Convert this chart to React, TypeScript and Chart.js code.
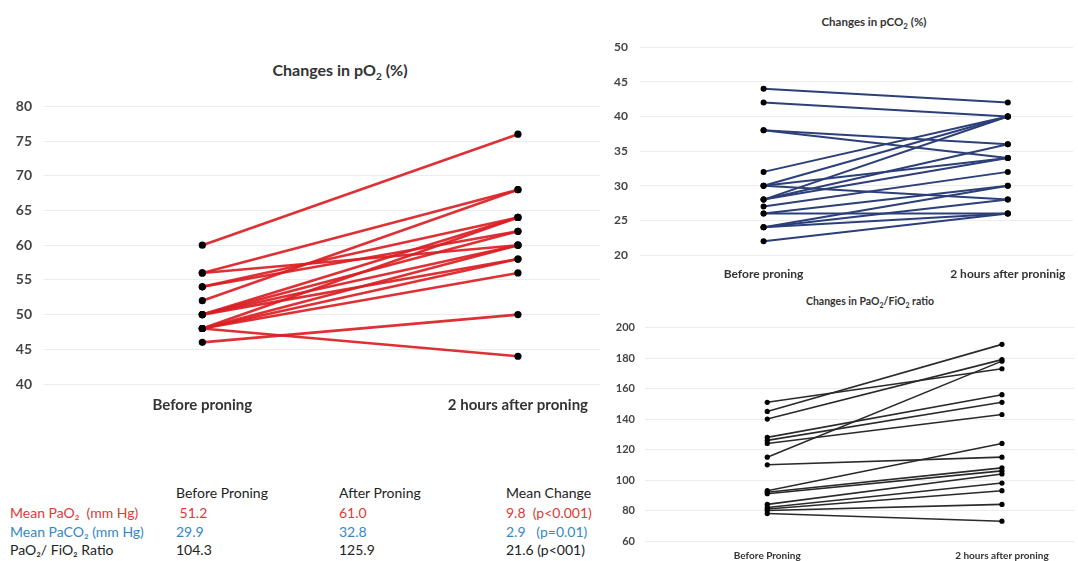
import React, { useEffect, useRef } from "react";
import Chart from "chart.js/auto";

// ---------- DATA ----------
const po2Labels = ["Before proning", "2 hours after proning"];
const po2Before = [60, 56, 56, 54, 54, 52, 50, 50, 50, 50, 48, 48, 48, 48, 48, 46];
const po2After = [76, 68, 60, 64, 62, 68, 64, 62, 60, 58, 64, 60, 58, 56, 44, 50];
const po2Ticks = [40, 45, 50, 55, 60, 65, 70, 75, 80];

const pco2Labels = ["Before proning", "2 hours after proninig"];
const pco2Before = [44, 42, 38, 38, 32, 30, 30, 30, 28, 28, 28, 27, 26, 26, 24, 24, 24, 22];
const pco2After = [42, 40, 36, 34, 40, 40, 34, 28, 40, 36, 34, 32, 30, 26, 30, 28, 26, 26];
const pco2Ticks = [20, 25, 30, 35, 40, 45, 50];

const ratioLabels = ["Before Proning", "2 hours after proning"];
const ratioBefore = [151, 145, 140, 128, 126, 124, 115, 110, 93, 92, 91, 84, 82, 81, 80, 78];
const ratioAfter = [173, 189, 179, 156, 151, 143, 178, 115, 124, 108, 106, 104, 98, 93, 84, 73];
const ratioTicks = [60, 80, 100, 120, 140, 160, 180, 200];

const tableHeaders = ["Before Proning", "After Proning", "Mean Change"];
const tableRowLabels = ["Mean PaO₂  (mm Hg)", "Mean PaCO₂ (mm Hg)", "PaO₂/ FiO₂ Ratio"];
const tableBefore = [" 51.2", "29.9", "104.3"];
const tableAfter = ["61.0", "32.8", "125.9"];
const tableChange = ["9.8  (p<0.001)", "2.9   (p=0.01)", "21.6 (p<001)"];
const tableColors = ["#dc3a36", "#3388c4", "#222222"];

type PanelProps = {
  before: number[];
  after: number[];
  labels: string[];
  ticks: number[];
  lineColor: string;
  lineWidth: number;
  pointRadius: number;
  left: number;
  top: number;
  width: number;
  height: number;
  yAxisWidth: number;
  xAxisHeight: number;
  padTop: number;
  padRight: number;
  xMin: number;
  xMax: number;
  tickFont: number;
  tickPad: number;
  xFont: number;
  xPad: number;
};

function Panel(p: PanelProps) {
  const ref = useRef<HTMLCanvasElement | null>(null);
  useEffect(() => {
    if (!ref.current) return;
    const datasets = p.before.map((b, i) => ({
      data: [
        { x: 0, y: b },
        { x: 1, y: p.after[i] },
      ],
      borderColor: p.lineColor,
      borderWidth: p.lineWidth,
      pointRadius: p.pointRadius,
      pointBackgroundColor: "#000000",
      pointBorderColor: "#000000",
      pointBorderWidth: 0,
      showLine: true,
      fill: false,
      tension: 0,
    }));
    const yMin = p.ticks[0];
    const yMax = p.ticks[p.ticks.length - 1];
    const chart = new Chart(ref.current, {
      type: "scatter",
      data: { datasets },
      options: {
        animation: false,
        responsive: false,
        maintainAspectRatio: false,
        layout: { padding: { top: p.padTop, right: p.padRight, left: 0, bottom: 0 } },
        plugins: { legend: { display: false }, tooltip: { enabled: false }, title: { display: false } },
        scales: {
          x: {
            type: "linear",
            min: p.xMin,
            max: p.xMax,
            grid: { display: false, drawTicks: false },
            border: { display: false },
            afterBuildTicks: (s: any) => {
              s.ticks = [{ value: 0 }, { value: 1 }];
            },
            afterFit: (s: any) => {
              s.height = p.xAxisHeight;
            },
            ticks: {
              autoSkip: false,
              maxRotation: 0,
              padding: p.xPad,
              color: "#333333",
              font: { family: "Lato", size: p.xFont, weight: "bold" },
              callback: (v: any) => p.labels[Number(v)] ?? "",
            },
          },
          y: {
            type: "linear",
            min: yMin,
            max: yMax,
            grid: { color: "#ececec", lineWidth: 1, drawTicks: false },
            border: { display: false },
            afterBuildTicks: (s: any) => {
              s.ticks = p.ticks.map((v) => ({ value: v }));
            },
            afterFit: (s: any) => {
              s.width = p.yAxisWidth;
            },
            ticks: {
              padding: p.tickPad,
              color: "#444444",
              font: { family: "Lato", size: p.tickFont, weight: "bold" },
            },
          },
        },
      },
    } as any);
    return () => chart.destroy();
  }, []);
  return (
    <canvas
      ref={ref}
      width={p.width}
      height={p.height}
      style={{ position: "absolute", left: p.left, top: p.top, width: p.width, height: p.height }}
    />
  );
}

const txt = (extra: React.CSSProperties): React.CSSProperties => ({
  position: "absolute",
  whiteSpace: "pre",
  fontFamily: "Lato",
  lineHeight: 1,
  ...extra,
});

export default function App() {
  const rowY = [513, 532, 550];
  return (
    <div style={{ position: "absolute", left: 0, top: 0, width: 1078, height: 561, background: "#fff", overflow: "hidden" }}>
      {/* Left panel */}
      <div style={txt({ left: 240, top: 62, width: 200, textAlign: "center", fontSize: 16, fontWeight: 700, color: "#333" })}>
        Changes in pO<sub style={{ fontSize: 10 }}>2</sub> (%)
      </div>
      <Panel
        before={po2Before}
        after={po2After}
        labels={po2Labels}
        ticks={po2Ticks}
        lineColor="rgba(218,32,36,0.92)"
        lineWidth={2.6}
        pointRadius={3.6}
        left={0}
        top={86}
        width={605}
        height={333}
        yAxisWidth={44}
        xAxisHeight={35}
        padTop={10}
        padRight={5}
        xMin={-0.5016}
        xMax={1.26}
        tickFont={14}
        tickPad={12}
        xFont={15}
        xPad={12}
      />

      {/* Top right panel */}
      <div style={txt({ left: 774, top: 16, width: 200, textAlign: "center", fontSize: 11.5, fontWeight: 700, color: "#333" })}>
        Changes in pCO<sub style={{ fontSize: 8 }}>2</sub> (%)
      </div>
      <Panel
        before={pco2Before}
        after={pco2After}
        labels={pco2Labels}
        ticks={pco2Ticks}
        lineColor="#2c3f78"
        lineWidth={2}
        pointRadius={3}
        left={605}
        top={28}
        width={473}
        height={257}
        yAxisWidth={35}
        xAxisHeight={30}
        padTop={10}
        padRight={0}
        xMin={-0.506}
        xMax={1.267}
        tickFont={12}
        tickPad={12}
        xFont={12}
        xPad={12}
      />

      {/* Bottom right panel */}
      <div style={txt({ left: 770, top: 296, width: 200, textAlign: "center", fontSize: 10.5, fontWeight: 700, color: "#333" })}>
        Changes in PaO<sub style={{ fontSize: 7 }}>2</sub>/FiO<sub style={{ fontSize: 7 }}>2</sub> ratio
      </div>
      <Panel
        before={ratioBefore}
        after={ratioAfter}
        labels={ratioLabels}
        ticks={ratioTicks}
        lineColor="#2a2a2a"
        lineWidth={1.6}
        pointRadius={2.6}
        left={605}
        top={311}
        width={473}
        height={250}
        yAxisWidth={40}
        xAxisHeight={20}
        padTop={10}
        padRight={0}
        xMin={-0.521}
        xMax={1.307}
        tickFont={11}
        tickPad={10}
        xFont={10}
        xPad={9}
      />

      {/* Summary table */}
      <div style={txt({ left: 176, top: 486, fontSize: 14, color: "#222" })}>{tableHeaders[0]}</div>
      <div style={txt({ left: 339, top: 486, fontSize: 14, color: "#222" })}>{tableHeaders[1]}</div>
      <div style={txt({ left: 506, top: 486, fontSize: 14, color: "#222" })}>{tableHeaders[2]}</div>
      {tableRowLabels.map((lab, i) => (
        <React.Fragment key={i}>
          <div style={txt({ left: 10, top: rowY[i] - 7, fontSize: 14, color: tableColors[i] })}>{lab}</div>
          <div style={txt({ left: 176, top: rowY[i] - 7, fontSize: 14, color: tableColors[i] })}>{tableBefore[i]}</div>
          <div style={txt({ left: 339, top: rowY[i] - 7, fontSize: 14, color: tableColors[i] })}>{tableAfter[i]}</div>
          <div style={txt({ left: 506, top: rowY[i] - 7, fontSize: 14, color: tableColors[i] })}>{tableChange[i]}</div>
        </React.Fragment>
      ))}
    </div>
  );
}
